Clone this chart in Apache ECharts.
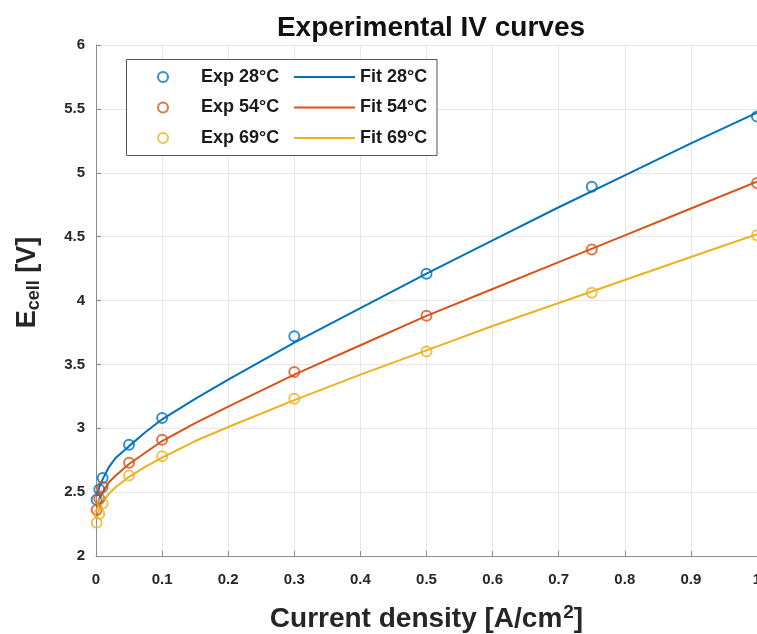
<!DOCTYPE html>
<html><head><meta charset="utf-8">
<script src="https://cdn.jsdelivr.net/npm/echarts@6/dist/echarts.min.js"></script>
<style>html,body{margin:0;padding:0;background:#fff}#c{width:757px;height:634px}</style>
</head><body><div id="c"></div>
<script>
const expX = [0.001, 0.005, 0.01, 0.05, 0.1, 0.3, 0.5, 0.75, 1.0];
const exp28 = [2.44, 2.52, 2.61, 2.87, 3.08, 3.72, 4.21, 4.89, 5.44];
const exp54 = [2.36, 2.45, 2.54, 2.73, 2.91, 3.44, 3.88, 4.40, 4.92];
const exp69 = [2.26, 2.33, 2.41, 2.63, 2.78, 3.23, 3.60, 4.06, 4.51];
const fitX = [0.001, 0.005, 0.01, 0.02, 0.03, 0.05, 0.075, 0.1, 0.15, 0.2, 0.3, 0.4, 0.5, 0.6, 0.7, 0.8, 0.9, 1.0];
const fit28 = [2.47, 2.54, 2.60, 2.70, 2.77, 2.86, 2.97, 3.07, 3.23, 3.38, 3.67, 3.94, 4.21, 4.47, 4.73, 4.98, 5.23, 5.47];
const fit54 = [2.38, 2.45, 2.50, 2.58, 2.63, 2.72, 2.81, 2.90, 3.04, 3.17, 3.42, 3.65, 3.88, 4.09, 4.30, 4.51, 4.72, 4.93];
const fit69 = [2.30, 2.37, 2.42, 2.49, 2.54, 2.62, 2.70, 2.77, 2.90, 3.01, 3.22, 3.42, 3.61, 3.80, 3.98, 4.16, 4.34, 4.52];
const expNames = ['Exp 28°C', 'Exp 54°C', 'Exp 69°C'];
const fitNames = ['Fit 28°C', 'Fit 54°C', 'Fit 69°C'];
const colors = ['#0072BD', '#D95319', '#EDB120'];
const titleText = 'Experimental IV curves';

const expSets = [exp28, exp54, exp69];
const fitSets = [fit28, fit54, fit69];
const FONT = 'Liberation Sans, Arial, sans-serif';

const series = [];
fitSets.forEach((ys, i) => {
  series.push({
    name: fitNames[i], type: 'line', data: fitX.map((x, k) => [x, ys[k]]),
    showSymbol: false, symbol: 'none', smooth: false,
    lineStyle: { color: colors[i], width: 2 }, itemStyle: { color: colors[i] }, z: 2
  });
});
expSets.forEach((ys, i) => {
  series.push({
    name: expNames[i], type: 'scatter', data: expX.map((x, k) => [x, ys[k]]),
    symbol: 'circle', symbolSize: 10,
    itemStyle: { color: 'rgba(255,255,255,0)', borderColor: colors[i], borderWidth: 2 }, z: 3
  });
});

const legendText = { fontFamily: FONT, fontSize: 18, fontWeight: 'bold', color: '#1a1a1a', lineHeight: 16 };

const chart = echarts.init(document.getElementById('c'), null, { renderer: 'canvas' });
chart.setOption({
  animation: false,
  backgroundColor: '#fff',
  textStyle: { fontFamily: FONT },
  title: {
    text: titleText, left: 426, top: 9, textAlign: 'center',
    textStyle: { fontFamily: FONT, fontSize: 28, fontWeight: 'bold', color: '#111' }
  },
  grid: { left: 96, right: 0, top: 45, bottom: 78, containLabel: false, outerBoundsMode: 'none' },
  xAxis: {
    type: 'value', min: 0, max: 1, interval: 0.1,
    name: '{a|Current density [A/cm}{s|2}{a|]}',
    nameLocation: 'middle', nameGap: 47,
    nameTextStyle: {
      rich: {
        a: { fontFamily: FONT, fontSize: 28, fontWeight: 'bold', color: '#262626', lineHeight: 30, verticalAlign: 'bottom' },
        s: { fontFamily: FONT, fontSize: 19, fontWeight: 'bold', color: '#262626', lineHeight: 30, verticalAlign: 'top', padding: [0, 0, 0, 1] }
      }
    },
    axisLine: { show: true, lineStyle: { color: '#8c8c8c', width: 1 } },
    axisTick: { show: true, inside: true, length: 5, lineStyle: { color: '#8c8c8c' } },
    axisLabel: { margin: 16, fontFamily: FONT, fontSize: 15, fontWeight: 'bold', color: '#262626' },
    splitLine: { show: true, lineStyle: { color: '#e6e6e6', width: 1 } }
  },
  yAxis: {
    type: 'value', min: 2, max: 6, interval: 0.5,
    name: '{a|E}{b|cell}{a| [V]}',
    nameLocation: 'middle', nameGap: 53, nameRotate: 90,
    nameTextStyle: {
      padding: [0, 0, 0, 36],
      rich: {
        a: { fontFamily: FONT, fontSize: 27, fontWeight: 'bold', color: '#262626', lineHeight: 30, verticalAlign: 'middle' },
        b: { fontFamily: FONT, fontSize: 18, fontWeight: 'bold', color: '#262626', lineHeight: 18, verticalAlign: 'bottom' }
      }
    },
    axisLine: { show: true, lineStyle: { color: '#8c8c8c', width: 1 } },
    axisTick: { show: true, inside: true, length: 5, lineStyle: { color: '#8c8c8c' } },
    axisLabel: { margin: 11, fontFamily: FONT, fontSize: 15, fontWeight: 'bold', color: '#262626' },
    splitLine: { show: true, lineStyle: { color: '#e6e6e6', width: 1 } }
  },
  legend: [
    {
      data: expNames, orient: 'vertical', left: 157, top: 68, padding: 0,
      itemWidth: 66, itemHeight: 10, itemGap: 12.5,
      textStyle: legendText, selectedMode: false
    },
    {
      data: fitNames, orient: 'vertical', left: 293, top: 68, padding: 0,
      itemWidth: 61, itemHeight: 10, itemGap: 12.5,
      itemStyle: { opacity: 0 },
      textStyle: legendText, selectedMode: false
    }
  ],
  graphic: {
    elements: [{
      type: 'rect', z: 3, silent: true,
      shape: { x: 126.5, y: 59.5, width: 310.5, height: 96 },
      style: { fill: '#fff', stroke: '#555', lineWidth: 1 }
    }]
  },
  series: series
});
</script>
</body></html>
